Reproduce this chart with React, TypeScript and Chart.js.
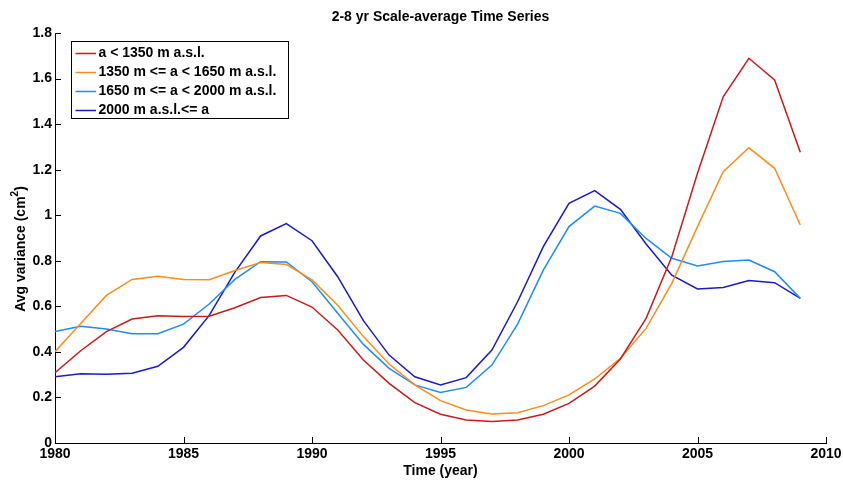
import React, { useEffect, useRef } from "react";
import { Chart, registerables } from "chart.js";

Chart.register(...registerables);

const years = [1980, 1981, 1982, 1983, 1984, 1985, 1986, 1987, 1988, 1989, 1990, 1991, 1992, 1993, 1994, 1995, 1996, 1997, 1998, 1999, 2000, 2001, 2002, 2003, 2004, 2005, 2006, 2007, 2008, 2009];

const seriesBelow1350 = [0.309, 0.405, 0.489, 0.544, 0.559, 0.555, 0.557, 0.594, 0.639, 0.648, 0.597, 0.496, 0.364, 0.262, 0.177, 0.126, 0.101, 0.094, 0.101, 0.126, 0.174, 0.25, 0.369, 0.547, 0.818, 1.184, 1.52, 1.689, 1.594, 1.276];
const series1350to1650 = [0.401, 0.525, 0.648, 0.718, 0.732, 0.718, 0.717, 0.757, 0.792, 0.784, 0.716, 0.605, 0.467, 0.347, 0.255, 0.186, 0.145, 0.127, 0.133, 0.164, 0.211, 0.281, 0.372, 0.503, 0.701, 0.95, 1.191, 1.296, 1.206, 0.957];
const series1650to2000 = [0.489, 0.512, 0.5, 0.48, 0.48, 0.522, 0.61, 0.718, 0.796, 0.795, 0.708, 0.57, 0.433, 0.328, 0.255, 0.222, 0.244, 0.342, 0.522, 0.759, 0.95, 1.04, 1.008, 0.898, 0.811, 0.777, 0.797, 0.803, 0.752, 0.635];
const seriesAbove2000 = [0.291, 0.304, 0.302, 0.306, 0.337, 0.42, 0.56, 0.75, 0.909, 0.963, 0.888, 0.73, 0.537, 0.386, 0.291, 0.255, 0.287, 0.408, 0.62, 0.862, 1.052, 1.108, 1.026, 0.874, 0.737, 0.676, 0.683, 0.713, 0.704, 0.635];

const seriesLabels = ["a < 1350 m a.s.l.", "1350 m <= a < 1650 m a.s.l.", "1650 m <= a < 2000 m a.s.l.", "2000 m a.s.l.<= a"];
const seriesColors = ["#CC1A1A", "#FF8C1A", "#1E8CFF", "#1A1ACC"];

const xTicks = [1980, 1985, 1990, 1995, 2000, 2005, 2010];
const yTicks = [0, 0.2, 0.4, 0.6, 0.8, 1, 1.2, 1.4, 1.6, 1.8];

const titleText = "2-8 yr Scale-average Time Series";
const xTitle = "Time (year)";
const yTitleMain = "Avg variance (cm";
const yTitleSup = "2";
const yTitleEnd = ")";

const FONT = "'Liberation Sans', Arial, sans-serif";

const decorPlugin = {
  id: "decor",
  afterDraw(chart: any) {
    const ctx = chart.ctx as CanvasRenderingContext2D;
    const xs = chart.scales.x;
    const ys = chart.scales.y;
    const area = chart.chartArea;
    ctx.save();
    // inward ticks
    ctx.strokeStyle = "#000";
    ctx.lineWidth = 1;
    ctx.beginPath();
    xTicks.forEach((t) => {
      const px = Math.round(xs.getPixelForValue(t)) + 0.5;
      ctx.moveTo(px, area.bottom);
      ctx.lineTo(px, area.bottom - 6);
    });
    yTicks.forEach((t) => {
      const py = Math.round(ys.getPixelForValue(t)) + 0.5;
      ctx.moveTo(area.left, py);
      ctx.lineTo(area.left + 6, py);
    });
    ctx.stroke();

    // title
    ctx.fillStyle = "#000";
    ctx.font = `bold 14px ${FONT}`;
    ctx.textAlign = "center";
    ctx.textBaseline = "middle";
    ctx.fillText(titleText, (area.left + area.right) / 2, 17.5);
    // x title
    ctx.fillText(xTitle, 440.5, 471.5);
    // y title with superscript
    ctx.save();
    ctx.translate(21, 249);
    ctx.rotate(-Math.PI / 2);
    ctx.textAlign = "left";
    ctx.font = `bold 14px ${FONT}`;
    const w1 = ctx.measureText(yTitleMain).width;
    ctx.font = `bold 10px ${FONT}`;
    const w2 = ctx.measureText(yTitleSup).width;
    ctx.font = `bold 14px ${FONT}`;
    const w3 = ctx.measureText(yTitleEnd).width;
    const total = w1 + w2 + w3;
    let x0 = -total / 2;
    ctx.fillText(yTitleMain, x0, 0);
    x0 += w1;
    ctx.font = `bold 10px ${FONT}`;
    ctx.fillText(yTitleSup, x0, -6);
    x0 += w2;
    ctx.font = `bold 14px ${FONT}`;
    ctx.fillText(yTitleEnd, x0, 0);
    ctx.restore();

    // legend
    const bx = 71.5, by = 41.5, bw = 217, bh = 77;
    ctx.fillStyle = "#fff";
    ctx.fillRect(bx, by, bw, bh);
    ctx.strokeStyle = "#000";
    ctx.lineWidth = 1;
    ctx.strokeRect(bx, by, bw, bh);
    ctx.textAlign = "left";
    ctx.font = `bold 14px ${FONT}`;
    seriesLabels.forEach((lab, i) => {
      const ry = 53.5 + i * 19;
      ctx.strokeStyle = seriesColors[i];
      ctx.lineWidth = 1.5;
      ctx.beginPath();
      ctx.moveTo(75.5, ry);
      ctx.lineTo(96, ry);
      ctx.stroke();
      ctx.fillStyle = "#000";
      ctx.fillText(lab, 98.5, ry);
    });
    ctx.restore();
  },
};

export default function App() {
  const ref = useRef<HTMLCanvasElement>(null);
  useEffect(() => {
    if (!ref.current) return;
    const datasets = [seriesBelow1350, series1350to1650, series1650to2000, seriesAbove2000].map((s, i) => ({
      label: seriesLabels[i],
      data: s.map((v, j) => ({ x: years[j], y: v })),
      borderColor: seriesColors[i],
      backgroundColor: seriesColors[i],
      borderWidth: 1.5,
      pointRadius: 0,
      tension: 0,
      fill: false,
    }));
    const chart = new Chart(ref.current, {
      type: "line",
      data: { datasets },
      plugins: [decorPlugin],
      options: {
        responsive: false,
        animation: false,
        layout: { padding: { top: 33, right: 17, left: 0, bottom: 0 } },
        plugins: { legend: { display: false }, tooltip: { enabled: false }, title: { display: false } },
        scales: {
          x: {
            type: "linear",
            min: 1980,
            max: 2010,
            afterBuildTicks: (s: any) => { s.ticks = xTicks.map((v) => ({ value: v })); },
            afterFit: (s: any) => { s.height = 38; s.paddingLeft = 0; s.paddingRight = 0; },
            ticks: { color: "#000", font: { family: FONT, size: 14, weight: "bold" }, padding: 3, maxRotation: 0, autoSkip: false, callback: (v: any) => String(v) },
            grid: { drawOnChartArea: false, drawTicks: false },
            border: { display: true, color: "#000", width: 1 },
          },
          y: {
            type: "linear",
            min: 0,
            max: 1.8,
            afterBuildTicks: (s: any) => { s.ticks = yTicks.map((v) => ({ value: v })); },
            afterFit: (s: any) => { s.width = 55; s.paddingTop = 0; s.paddingBottom = 0; },
            ticks: { color: "#000", font: { family: FONT, size: 14, weight: "bold" }, padding: 3, autoSkip: false, callback: (v: any) => String(+Number(v).toFixed(1)) },
            grid: { drawOnChartArea: false, drawTicks: false },
            border: { display: true, color: "#000", width: 1 },
          },
        },
      },
    } as any);
    return () => chart.destroy();
  }, []);
  return (
    <div style={{ position: "fixed", left: 0, top: 0, width: 843, height: 481, background: "#fff" }}>
      <canvas ref={ref} width={843} height={481} style={{ display: "block" }} />
    </div>
  );
}
